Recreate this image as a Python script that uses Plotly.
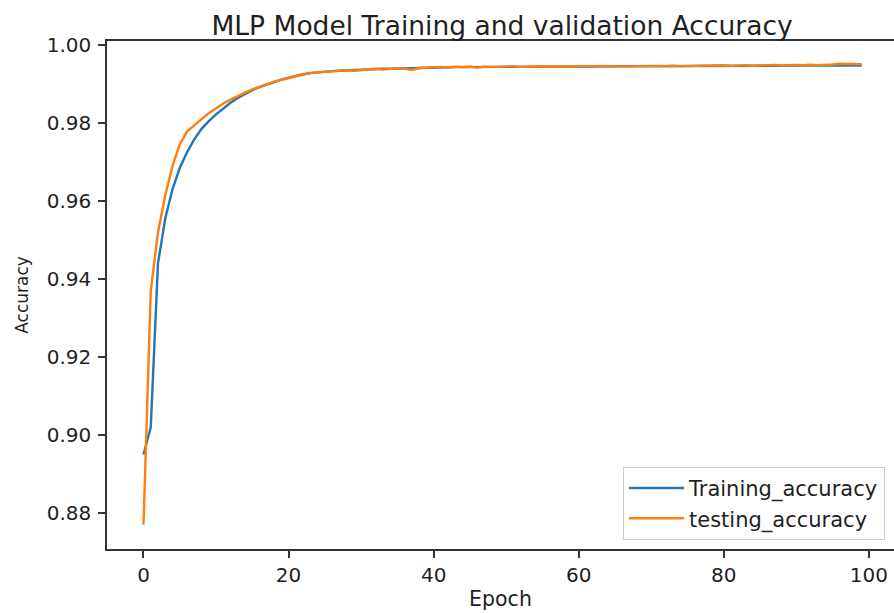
import plotly.graph_objects as go

epochs = list(range(100))

training_accuracy = [
    0.8950, 0.9020, 0.9440, 0.9555, 0.9630, 0.9685, 0.9725, 0.9758, 0.9785, 0.9805,
    0.9822, 0.9838, 0.9852, 0.9864, 0.9875, 0.9884, 0.9892, 0.9899, 0.9905, 0.9911,
    0.9916, 0.9921, 0.9925, 0.9928, 0.9930, 0.9932, 0.9933, 0.9934, 0.9935, 0.9936,
    0.9937, 0.9938, 0.9938, 0.9939, 0.9939, 0.9940, 0.9940, 0.99405, 0.99410, 0.99418,
    0.99425, 0.99428, 0.99430, 0.99432, 0.99433, 0.99435, 0.99436, 0.99438, 0.99439, 0.99440,
    0.99441, 0.99442, 0.99443, 0.99444, 0.99445, 0.99446, 0.99446, 0.99447, 0.99448, 0.99449,
    0.99450, 0.99450, 0.99451, 0.99452, 0.99452, 0.99453, 0.99454, 0.99454, 0.99455, 0.99456,
    0.99456, 0.99457, 0.99458, 0.99458, 0.99459, 0.99460, 0.99460, 0.99461, 0.99462, 0.99462,
    0.99463, 0.99464, 0.99464, 0.99465, 0.99466, 0.99466, 0.99467, 0.99468, 0.99468, 0.99469,
    0.99470, 0.99470, 0.99471, 0.99472, 0.99472, 0.99473, 0.99474, 0.99474, 0.99475, 0.99476,
]

testing_accuracy = [
    0.8770, 0.9370, 0.9520, 0.9615, 0.9690, 0.9745, 0.9778, 0.9795, 0.9810, 0.9825,
    0.9838, 0.9850, 0.9860, 0.9870, 0.9878, 0.9886, 0.9893, 0.9900, 0.9906, 0.9911,
    0.9916, 0.9920, 0.9924, 0.9928, 0.9930, 0.9931, 0.9932, 0.9934, 0.9935, 0.9934,
    0.9936, 0.9938, 0.9939, 0.9937, 0.9938, 0.9940, 0.9939, 0.9936, 0.9941, 0.9942,
    0.99430, 0.99440, 0.99425, 0.99445, 0.99435, 0.99450, 0.99420, 0.99445, 0.99440, 0.99450,
    0.99445, 0.99455, 0.99440, 0.99450, 0.99445, 0.99455, 0.99450, 0.99445, 0.99455, 0.99450,
    0.99460, 0.99450, 0.99455, 0.99460, 0.99450, 0.99460, 0.99455, 0.99445, 0.99460, 0.99465,
    0.99455, 0.99465, 0.99460, 0.99470, 0.99460, 0.99465, 0.99470, 0.99460, 0.99475, 0.99470,
    0.99480, 0.99465, 0.99475, 0.99485, 0.99470, 0.99480, 0.99475, 0.99490, 0.99475, 0.99485,
    0.99490, 0.99480, 0.99495, 0.99485, 0.99490, 0.99500, 0.99520, 0.99510, 0.99500, 0.99505,
]

x_ticks = [0, 20, 40, 60, 80, 100]
y_ticks = [0.88, 0.90, 0.92, 0.94, 0.96, 0.98, 1.00]
y_tick_labels = ["0.88", "0.90", "0.92", "0.94", "0.96", "0.98", "1.00"]

FONT = "DejaVu Sans"
TEXT = "#1f1f1f"

fig = go.Figure()
fig.add_trace(go.Scatter(x=epochs, y=training_accuracy, mode="lines",
                         name="Training_accuracy",
                         line=dict(color="#1f77b4", width=2.4)))
fig.add_trace(go.Scatter(x=epochs, y=testing_accuracy, mode="lines",
                         name="testing_accuracy",
                         line=dict(color="#ff7f0e", width=2.4)))

fig.update_layout(
    width=894, height=613,
    margin=dict(l=107, r=0, t=41, b=64),
    paper_bgcolor="white", plot_bgcolor="white",
    font=dict(family=FONT, size=20, color=TEXT),
    title=dict(text="MLP Model Training and validation Accuracy",
               x=0.502, xref="paper", xanchor="center",
               y=1 - 26 / 613, yref="container", yanchor="middle",
               font=dict(family=FONT, size=26.5, color=TEXT)),
    showlegend=True,
    legend=dict(x=0.9886, y=0.018, xanchor="right", yanchor="bottom",
                bgcolor="white", bordercolor="#cccccc", borderwidth=1,
                font=dict(family=FONT, size=21, color=TEXT),
                tracegroupgap=0, itemwidth=55),
)

fig.update_xaxes(
    range=[-5.03, 103.46], tickvals=x_ticks, ticktext=[str(v) for v in x_ticks],
    showgrid=False, zeroline=False,
    showline=True, linecolor="#333333", linewidth=1.5, mirror=True,
    ticks="outside", ticklen=7, tickwidth=1.5, tickcolor="#333333",
    tickfont=dict(family=FONT, size=20, color=TEXT),
    title=dict(text="Epoch", font=dict(family=FONT, size=20.5, color=TEXT), standoff=6),
)
fig.update_yaxes(
    range=[0.87078, 1.00103], tickvals=y_ticks, ticktext=y_tick_labels,
    showgrid=False, zeroline=False,
    showline=True, linecolor="#333333", linewidth=1.5, mirror=False,
    ticks="outside", ticklen=7, tickwidth=1.5, tickcolor="#333333",
    ticklabelstandoff=3,
    tickfont=dict(family=FONT, size=20, color=TEXT),
    title=dict(text="Accuracy", font=dict(family=FONT, size=17, color=TEXT), standoff=14),
)

fig.write_html("out.html")
